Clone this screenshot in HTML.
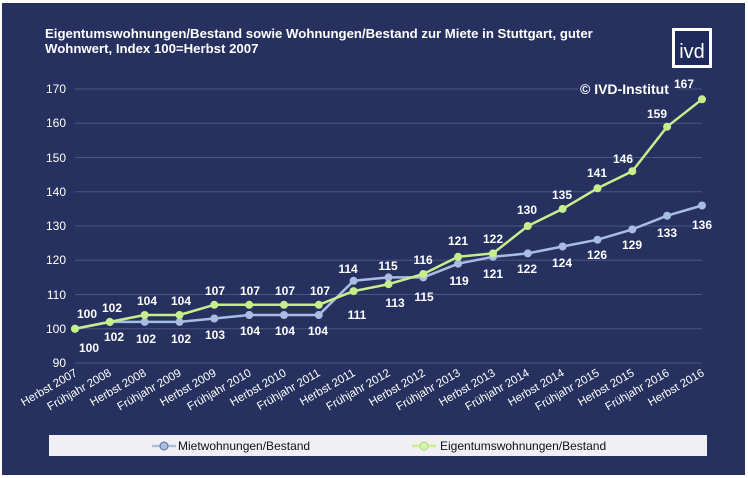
<!DOCTYPE html>
<html><head><meta charset="utf-8"><style>
body{margin:0;background:#fff;}
svg{display:block;font-family:"Liberation Sans",sans-serif;}
</style></head><body>
<svg width="748" height="478" viewBox="0 0 748 478">
<rect x="0" y="0" width="748" height="478" fill="#fff"/>
<rect x="2" y="3" width="743" height="472" fill="#26315f"/>
<text x="45" y="38" fill="#fff" font-size="13.2" font-weight="bold">Eigentumswohnungen/Bestand sowie Wohnungen/Bestand zur Miete in Stuttgart, guter</text>
<text x="45" y="53" fill="#fff" font-size="13.2" font-weight="bold">Wohnwert, Index 100=Herbst 2007</text>
<rect x="672" y="28" width="40" height="40" fill="#fff"/>
<rect x="675" y="31" width="34" height="34" fill="#1f2a5c"/>
<text x="692" y="58" fill="#fff" font-size="20" text-anchor="middle">ivd</text>
<g stroke="#4a5585" stroke-width="1">
<line x1="75" y1="89" x2="702" y2="89"/><line x1="75" y1="123.3" x2="702" y2="123.3"/><line x1="75" y1="157.5" x2="702" y2="157.5"/><line x1="75" y1="191.8" x2="702" y2="191.8"/><line x1="75" y1="226" x2="702" y2="226"/><line x1="75" y1="260.3" x2="702" y2="260.3"/><line x1="75" y1="294.5" x2="702" y2="294.5"/><line x1="75" y1="328.8" x2="702" y2="328.8"/><line x1="75" y1="363" x2="702" y2="363"/>
</g>
<rect x="578" y="80" width="100" height="16" fill="#26315f"/>
<text x="580" y="94" fill="#fff" font-size="14" font-weight="bold">© IVD-Institut</text>
<g fill="#fff" font-size="12" text-anchor="end">
<text x="66" y="93">170</text><text x="66" y="127">160</text><text x="66" y="162">150</text><text x="66" y="196">140</text><text x="66" y="230">130</text><text x="66" y="264">120</text><text x="66" y="299">110</text><text x="66" y="333">100</text><text x="66" y="367">90</text>
</g>
<g fill="#fff" font-size="11.5" text-anchor="end">
<text transform="translate(78,375) rotate(-30)">Herbst 2007</text>
<text transform="translate(112,375) rotate(-30)">Frühjahr 2008</text>
<text transform="translate(147,375) rotate(-30)">Herbst 2008</text>
<text transform="translate(182,375) rotate(-30)">Frühjahr 2009</text>
<text transform="translate(217,375) rotate(-30)">Herbst 2009</text>
<text transform="translate(252,375) rotate(-30)">Frühjahr 2010</text>
<text transform="translate(287,375) rotate(-30)">Herbst 2010</text>
<text transform="translate(321,375) rotate(-30)">Frühjahr 2011</text>
<text transform="translate(356,375) rotate(-30)">Herbst 2011</text>
<text transform="translate(391,375) rotate(-30)">Frühjahr 2012</text>
<text transform="translate(426,375) rotate(-30)">Herbst 2012</text>
<text transform="translate(461,375) rotate(-30)">Frühjahr 2013</text>
<text transform="translate(496,375) rotate(-30)">Herbst 2013</text>
<text transform="translate(530,375) rotate(-30)">Frühjahr 2014</text>
<text transform="translate(565,375) rotate(-30)">Herbst 2014</text>
<text transform="translate(600,375) rotate(-30)">Frühjahr 2015</text>
<text transform="translate(635,375) rotate(-30)">Herbst 2015</text>
<text transform="translate(670,375) rotate(-30)">Frühjahr 2016</text>
<text transform="translate(705,375) rotate(-30)">Herbst 2016</text>
</g>
<polyline fill="none" stroke="#a9bde2" stroke-width="2.5" stroke-linejoin="round" points="75,328.75 109.8,321.9 144.7,321.9 179.5,321.9 214.3,318.5 249.2,315 284,315 318.8,315 353.6,280.8 388.5,277.4 423.3,277.4 458.1,263.7 493,256.8 527.8,253.4 562.6,246.5 597.5,239.7 632.3,229.4 667.1,215.7 702,205.5"/>
<g fill="#a9bde2">
<circle cx="75" cy="328.75" r="4"/><circle cx="109.8" cy="321.9" r="4"/><circle cx="144.7" cy="321.9" r="4"/><circle cx="179.5" cy="321.9" r="4"/><circle cx="214.3" cy="318.5" r="4"/><circle cx="249.2" cy="315" r="4"/><circle cx="284" cy="315" r="4"/><circle cx="318.8" cy="315" r="4"/><circle cx="353.6" cy="280.8" r="4"/><circle cx="388.5" cy="277.4" r="4"/><circle cx="423.3" cy="277.4" r="4"/><circle cx="458.1" cy="263.7" r="4"/><circle cx="493" cy="256.8" r="4"/><circle cx="527.8" cy="253.4" r="4"/><circle cx="562.6" cy="246.5" r="4"/><circle cx="597.5" cy="239.7" r="4"/><circle cx="632.3" cy="229.4" r="4"/><circle cx="667.1" cy="215.7" r="4"/><circle cx="702" cy="205.5" r="4"/>
</g>
<polyline fill="none" stroke="#c6ef8c" stroke-width="2.5" stroke-linejoin="round" points="75,328.75 109.8,321.9 144.7,315 179.5,315 214.3,304.8 249.2,304.8 284,304.8 318.8,304.8 353.6,291.1 388.5,284.2 423.3,274 458.1,256.8 493,253.4 527.8,226 562.6,208.9 597.5,188.3 632.3,171.2 667.1,126.7 702,99.3"/>
<g fill="#c6ef8c">
<circle cx="75" cy="328.75" r="4"/><circle cx="109.8" cy="321.9" r="4"/><circle cx="144.7" cy="315" r="4"/><circle cx="179.5" cy="315" r="4"/><circle cx="214.3" cy="304.8" r="4"/><circle cx="249.2" cy="304.8" r="4"/><circle cx="284" cy="304.8" r="4"/><circle cx="318.8" cy="304.8" r="4"/><circle cx="353.6" cy="291.1" r="4"/><circle cx="388.5" cy="284.2" r="4"/><circle cx="423.3" cy="274" r="4"/><circle cx="458.1" cy="256.8" r="4"/><circle cx="493" cy="253.4" r="4"/><circle cx="527.8" cy="226" r="4"/><circle cx="562.6" cy="208.9" r="4"/><circle cx="597.5" cy="188.3" r="4"/><circle cx="632.3" cy="171.2" r="4"/><circle cx="667.1" cy="126.7" r="4"/><circle cx="702" cy="99.3" r="4"/>
</g>
<g fill="#fff" font-size="12" font-weight="bold" text-anchor="middle">
<text x="87" y="318">100</text><text x="112" y="312">102</text><text x="147" y="305">104</text><text x="181" y="305">104</text><text x="215" y="295">107</text><text x="250" y="295">107</text><text x="285" y="295">107</text><text x="320" y="295">107</text>
<text x="357" y="319">111</text><text x="395" y="307">113</text><text x="423" y="264">116</text><text x="458" y="245">121</text><text x="493" y="243">122</text><text x="527" y="214">130</text><text x="562" y="199">135</text><text x="597" y="177">141</text><text x="623" y="163">146</text><text x="657" y="118">159</text><text x="684" y="88">167</text>
<text x="89" y="352">100</text><text x="114" y="341">102</text><text x="146" y="343">102</text><text x="181" y="343">102</text><text x="215" y="339">103</text><text x="250" y="335">104</text><text x="285" y="335">104</text><text x="318" y="335">104</text>
<text x="348" y="273">114</text><text x="388" y="270">115</text><text x="424" y="301">115</text><text x="459" y="285">119</text><text x="493" y="278">121</text><text x="527" y="273">122</text><text x="562" y="267">124</text><text x="597" y="259">126</text><text x="632" y="249">129</text><text x="667" y="237">133</text><text x="702" y="229">136</text>
</g>
<rect x="49" y="435" width="658" height="21" fill="#f0f0f4"/>
<line x1="152" y1="446" x2="176" y2="446" stroke="#a9bde2" stroke-width="2.5"/>
<circle cx="164" cy="446" r="4" fill="#a9bde2" stroke="#5a6e9a" stroke-width="1"/>
<text x="178" y="450" fill="#111" font-size="12">Mietwohnungen/Bestand</text>
<line x1="412" y1="446" x2="436" y2="446" stroke="#c6ef8c" stroke-width="2.5"/>
<circle cx="424" cy="446" r="4" fill="#d8f5aa" stroke="#a8d870" stroke-width="1"/>
<text x="440" y="450" fill="#111" font-size="12">Eigentumswohnungen/Bestand</text>
</svg>
</body></html>
